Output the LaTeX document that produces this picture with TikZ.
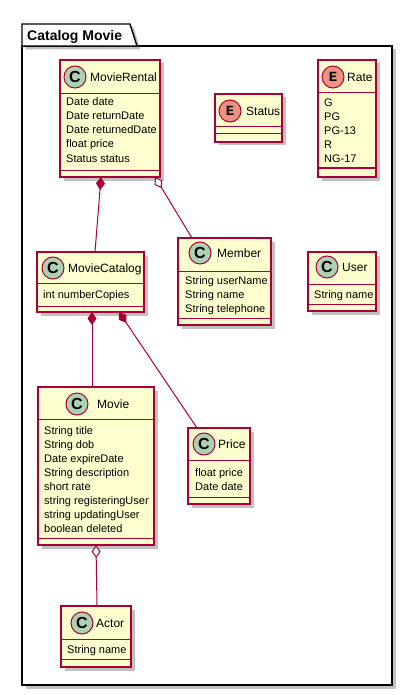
\documentclass[tikz,border=0pt]{standalone}
\usepackage{fontspec}
\setmainfont{Liberation Sans}
\newfontfamily\iconmono{Liberation Mono}
\usetikzlibrary{arrows.meta,shadows}

\definecolor{umlfill}{HTML}{FEFECE}
\definecolor{umlborder}{HTML}{A80036}
\definecolor{classicon}{HTML}{ADD1B2}
\definecolor{enumicon}{HTML}{EB937F}

\tikzset{
  softshadow/.style={drop shadow={shadow xshift=3.5pt, shadow yshift=-3.5pt, opacity=0.4, fill=black!60}},
  classbody/.style={draw=umlborder, line width=1.3pt, fill=umlfill, inner sep=0pt, outer sep=0pt, softshadow},
  sepline/.style={draw=umlborder, line width=1pt},
  cicon/.style={circle, draw=umlborder, line width=1pt, fill=classicon, minimum size=22pt, inner sep=0pt,
    font=\fontsize{16}{16}\selectfont\bfseries},
  eicon/.style={circle, draw=umlborder, line width=1pt, fill=enumicon, minimum size=22pt, inner sep=0pt,
    font=\iconmono\fontsize{14}{14}\selectfont\bfseries},
  classname/.style={inner sep=0pt, font=\fontsize{12}{14}\selectfont},
  attr/.style={inner sep=0pt, font=\fontsize{11}{13}\selectfont},
  pkgframe/.style={draw=black, line width=1.4pt, fill=white, inner sep=0pt, outer sep=0pt, softshadow},
  pkgtitle/.style={inner sep=0pt, font=\fontsize{14}{16}\selectfont\bfseries},
  compose/.style={draw=umlborder, line width=1pt, {Diamond[length=13pt, width=9pt, fill=umlborder]}-},
  aggreg/.style={draw=umlborder, line width=1pt, {Diamond[length=13pt, width=9pt, fill=white]}-},
}

% class box: id, left, top, right, bottom, first separator, second separator
\newcommand\classbox[7]{%
  \pgfmathsetmacro\cbw{#4-#2}%
  \pgfmathsetmacro\cbh{#5-#3}%
  \node[classbody, minimum width=\cbw pt, minimum height=\cbh pt] (#1) at ({(#2+#4)/2},{(#3+#5)/2}) {};
  \draw[sepline] (#2,#6) -- (#4,#6) (#2,#7) -- (#4,#7);
}
% header: id, icon style, letter, icon x, icon y, name x, name
\newcommand\classhead[7]{%
  \node[#2] (#1-icon) at (#4,#5) {#3};
  \node[classname, anchor=base west] (#1-name) at (#6,#5+4.3) {#7};
}
% attributes: id, x, centre of first line, list
\newcommand\classattrs[4]{%
  \foreach \attrtext [count=\i from 0] in {#4} {
    \node[attr, anchor=base west] (#1-a\i) at (#2,#3+14*\i+4) {\attrtext};
  }
}

\begin{document}
\begin{tikzpicture}[x=1pt, y=-1pt]
\useasboundingbox (0,0) rectangle (413,695);

% package frame with its tab
\node[pkgframe, minimum width=370pt, minimum height=639pt] (pkg) at (207,365.5) {};
\draw[draw=black, line width=1.4pt, fill=white, softshadow]
  (pkg.north west) -- ([yshift=22pt]pkg.north west) -- ([xshift=108pt, yshift=22pt]pkg.north west)
  -- ([xshift=115pt]pkg.north west) -- cycle;
\node[pkgtitle, anchor=base west] (pkg-title) at (27,40.7) {Catalog Movie};

% MovieRental
\classbox{mr}{60}{60}{160}{177}{94}{170}
\classhead{mr}{cicon}{C}{75}{77}{90}{MovieRental}
\classattrs{mr}{66}{102}{Date date,Date returnDate,Date returnedDate,float price,Status status}

% Status
\classbox{st}{215}{94}{282}{142}{127}{134}
\classhead{st}{eicon}{E}{230}{111}{246}{Status}

% Rate
\classbox{rt}{318}{60}{376}{177}{93}{168}
\classhead{rt}{eicon}{E}{333}{77}{347}{Rate}
\classattrs{rt}{324}{103}{G,PG,PG-13,R,NG-17}

% MovieCatalog
\classbox{mc}{37}{252}{144}{312}{283}{306}
\classhead{mc}{cicon}{C}{53}{268}{68}{MovieCatalog}
\classattrs{mc}{43}{294}{int numberCopies}

% Member
\classbox{mem}{178}{238}{271}{325}{271}{318}
\classhead{mem}{cicon}{C}{200}{253}{217}{Member}
\classattrs{mem}{185}{280}{String userName,String name,String telephone}

% User
\classbox{us}{308}{252}{376}{311}{284}{304}
\classhead{us}{cicon}{C}{327}{267}{342}{User}
\classattrs{us}{314}{294}{String name}

% Movie
\classbox{mov}{38}{387}{154}{545}{419}{538}
\classhead{mov}{cicon}{C}{77}{404}{97}{Movie}
\classattrs{mov}{44}{430}{String title,String dob,Date expireDate,String description,short rate,string registeringUser,string updatingUser,boolean deleted}

% Price
\classbox{pr}{188}{428}{250}{504}{460}{497}
\classhead{pr}{cicon}{C}{204}{444}{218}{Price}
\classattrs{pr}{195}{472}{float price,Date date}

% Actor
\classbox{act}{61}{606}{131}{667}{639}{659}
\classhead{act}{cicon}{C}{82}{623}{96}{Actor}
\classattrs{act}{67}{649}{String name}

% relations
\draw[compose] ([xshift=-9pt]mr.south) -- ([xshift=4.5pt]mc.north);
\draw[aggreg] ([xshift=45pt]mr.south) -- ([xshift=-32.5pt]mem.north);
\draw[compose] ([xshift=1.5pt]mc.south) -- ([xshift=-4pt]mov.north);
\draw[compose] ([xshift=28.5pt]mc.south) -- ([xshift=-22pt]pr.north);
\draw[aggreg] (mov.south) -- ([xshift=1pt]act.north);
\end{tikzpicture}
\end{document}
